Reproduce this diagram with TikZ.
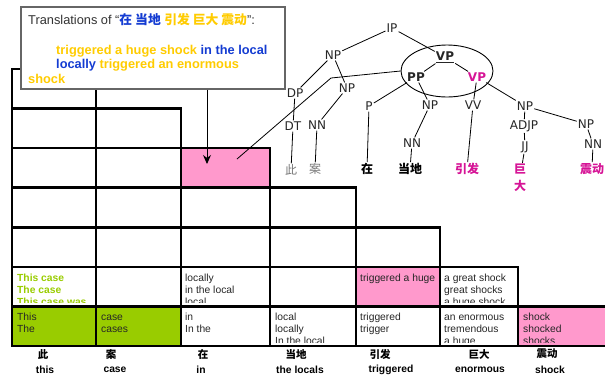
\documentclass[tikz,border=0pt]{standalone}
\usepackage{fontspec}
\setmainfont{Liberation Sans}
\newfontfamily\treefont{DejaVu Sans}
\newfontfamily\cjk{Noto Sans CJK SC}
\usetikzlibrary{shapes.geometric,arrows.meta}
\definecolor{cgreen}{RGB}{153,204,0}
\definecolor{cpink}{RGB}{255,153,204}
\definecolor{cyellow}{RGB}{255,204,0}
\definecolor{cblue}{RGB}{20,60,210}
\definecolor{cmag}{RGB}{214,20,150}
\definecolor{cgray}{RGB}{120,120,120}
\begin{document}
\begin{tikzpicture}[x=1pt,y=-1pt,
  cellline/.style={draw=black,line width=2.6pt},
  celltext/.style={anchor=north west,align=left,inner sep=0pt,font=\fontsize{10.3}{12}\selectfont,text=black!85},
  boxtext/.style={anchor=base west,inner sep=0pt,font=\fontsize{12.8}{15}\selectfont,text=black!80},
  tn/.style={inner sep=1pt,font=\treefont\fontsize{12}{14}\selectfont,text=black!85},
  tzh/.style={inner sep=1pt,font=\cjk\fontsize{12}{14}\selectfont},
  te/.style={draw=black,line width=0.8pt},
  zhlab/.style={inner sep=0pt,font=\cjk\bfseries\fontsize{10.5}{12}\selectfont},
  enlab/.style={inner sep=0pt,font=\bfseries\fontsize{10.3}{12}\selectfont}]
\useasboundingbox (0,0) rectangle (605,381);
% fills
\fill[cgreen] (12,306.4) rectangle (96,346);
\fill[cgreen] (96,306.4) rectangle (181,346);
\fill[cpink] (518,306.4) rectangle (608,346);
\fill[cpink] (356,266.9) rectangle (440,306.4);
\fill[cpink] (181,148.2) rectangle (270,187.7);
% grid
\foreach \r in {0,...,6}{
  \foreach \c/\xa/\xb in {0/12/96,1/96/181,2/181/270,3/270/356,4/356/440,5/440/518,6/518/608}{
    \ifnum\numexpr\c+\r\relax<7
      \draw[cellline] (\xa,{346-39.57*\r}) rectangle (\xb,{346-39.57*(\r+1)});
    \fi
  }
}
% cell texts, bottom row
\begin{scope}\clip (13.5,308) rectangle (94.5,342.3);
\node[celltext] (c00) at (17,312.2) {\strut This\\The};\end{scope}
\begin{scope}\clip (97.5,308) rectangle (179.5,342.3);
\node[celltext] (c01) at (101,312.2) {\strut case\\cases};\end{scope}
\begin{scope}\clip (182.5,308) rectangle (268.5,342.3);
\node[celltext] (c02) at (185,312.2) {\strut in\\In the};\end{scope}
\begin{scope}\clip (271.5,308) rectangle (354.5,342.3);
\node[celltext] (c03) at (275,312.2) {\strut local\\locally\\In the local};\end{scope}
\begin{scope}\clip (357.5,308) rectangle (438.5,342.3);
\node[celltext] (c04) at (360,312.2) {\strut triggered\\trigger};\end{scope}
\begin{scope}\clip (441.5,308) rectangle (516.5,342.3);
\node[celltext] (c05) at (444,312.2) {\strut an enormous\\tremendous\\a huge};\end{scope}
\begin{scope}\clip (519.5,308) rectangle (606,342.3);
\node[celltext] (c06) at (523,312.2) {\strut shock\\shocked\\shocks};\end{scope}
% second row
\begin{scope}\clip (13.5,268.4) rectangle (94.5,302.7);
\node[celltext,text=cgreen,font=\bfseries\fontsize{10.3}{12}\selectfont] (c10) at (17,272.5) {\strut This case\\The case\\This case was};\end{scope}
\begin{scope}\clip (182.5,268.4) rectangle (268.5,302.7);
\node[celltext] (c12) at (185,272.5) {\strut locally\\in the local\\local};\end{scope}
\begin{scope}\clip (357.5,268.4) rectangle (438.5,302.7);
\node[celltext] (c14) at (360,272.5) {\strut triggered a huge};\end{scope}
\begin{scope}\clip (441.5,268.4) rectangle (516.5,302.7);
\node[celltext] (c15) at (444,272.5) {\strut a great shock\\great shocks\\a huge shock};\end{scope}
% labels below
\foreach \n/\x/\t in {z0/43/此,z1/111/案,z2/203/在,z3/296/当地,z4/380/引发,z5/479/巨大,z6/547/震动}{
  \node[zhlab] (\n) at (\x,354) {\t};}
\foreach \n/\x/\t in {e0/45/this,e1/115/case,e2/201/in,e3/300/the locals,e4/391/triggered,e5/480/enormous,e6/550/shock}{
  \node[enlab] (\n) at (\x,370) {\t};}
% callout box
\node[draw=black!60,line width=1.3pt,fill=white,minimum width=264pt,minimum height=82pt,inner sep=0pt] (tbox) at (153,48) {};
\node[boxtext] (bt1) at (28,24) {Translations of “{\cjk\bfseries\color{cblue}在 当地} {\cjk\bfseries\color{cyellow}引发 巨大 震动}”:};
\node[boxtext] (bt2) at (56,54) {\bfseries\color{cyellow}triggered a huge shock \color{cblue}in the local};
\node[boxtext] (bt3) at (56,68) {\bfseries\color{cblue}locally \color{cyellow}triggered an enormous};
\node[boxtext] (bt4) at (28,83) {\bfseries\color{cyellow}shock};
\coordinate (arrT) at (207,164);
\draw[line width=0.9pt,-{Stealth[length=9pt,width=8pt]}] (tbox.south -| arrT) -- (arrT);
% tree
\node[tn] (IP) at (392,28) {IP};
\node[tn] (NP1) at (333,55) {NP};
\node[tn] (DP) at (295,93) {DP};
\node[tn] (NP2) at (347,88) {NP};
\node[tn] (DT) at (293,126) {DT};
\node[tn] (NN1) at (317,125) {NN};
\node[tzh,text=cgray] (ci) at (291,170) {此};
\node[tzh,text=cgray] (an) at (315,169) {案};
\node[tn,font=\treefont\bfseries\fontsize{12}{14}\selectfont] (VPt) at (445,57) {\underline{VP}};
\node[tn,font=\treefont\bfseries\fontsize{12}{14}\selectfont] (PP) at (416,77) {PP};
\node[tn,font=\treefont\bfseries\fontsize{12}{14}\selectfont,text=cmag] (VPm) at (477,77) {VP};
\node[draw=black,line width=0.9pt,ellipse,minimum width=92pt,minimum height=52pt,inner sep=0pt] (ell) at (447,71) {};
\node[tn] (P) at (369,106) {P};
\node[tn] (NP3) at (430,105) {NP};
\node[tn] (VV) at (473,105) {VV};
\node[tn] (NP4) at (525,106) {NP};
\node[tn] (ADJP) at (524,126) {ADJP};
\node[tn] (NP5) at (586,124) {NP};
\node[tn] (NN2) at (412,143) {NN};
\node[tn] (JJ) at (525,147) {JJ};
\node[tn] (NN3) at (593,144) {NN};
\node[tzh,font=\cjk\bfseries\fontsize{12}{14}\selectfont] (zai) at (367,169) {在};
\node[tzh,font=\cjk\bfseries\fontsize{12}{14}\selectfont] (dangdi) at (410,169) {当地};
\node[tzh,font=\cjk\bfseries\fontsize{12}{14}\selectfont,text=cmag] (yinfa) at (467,169) {引发};
\node[tzh,font=\cjk\bfseries\fontsize{12}{17}\selectfont,text=cmag,align=center] (juda) at (520,178) {巨\\大};
\node[tzh,font=\cjk\bfseries\fontsize{12}{14}\selectfont,text=cmag] (zhendong) at (592,169) {震动};
\foreach \a/\b in {IP/NP1,IP/VPt,NP1/DP,NP1/NP2,DP/DT,DT/ci,NP2/NN1,NN1/an,VPt/PP,VPt/VPm,PP/P,PP/NP3,P/zai,NP3/NN2,NN2/dangdi,VPm/VV,VV/yinfa,VPm/NP4,NP4/ADJP,NP4/NP5,ADJP/JJ,JJ/juda,NP5/NN3,NN3/zhendong}{
  \draw[te] (\a) -- (\b);}
% connector from pink cell to ellipse
\coordinate (pk) at (237,159);
\coordinate (bend) at (331,78);
\draw[te] (pk) -- (bend) -- (ell.west);
\end{tikzpicture}
\end{document}
